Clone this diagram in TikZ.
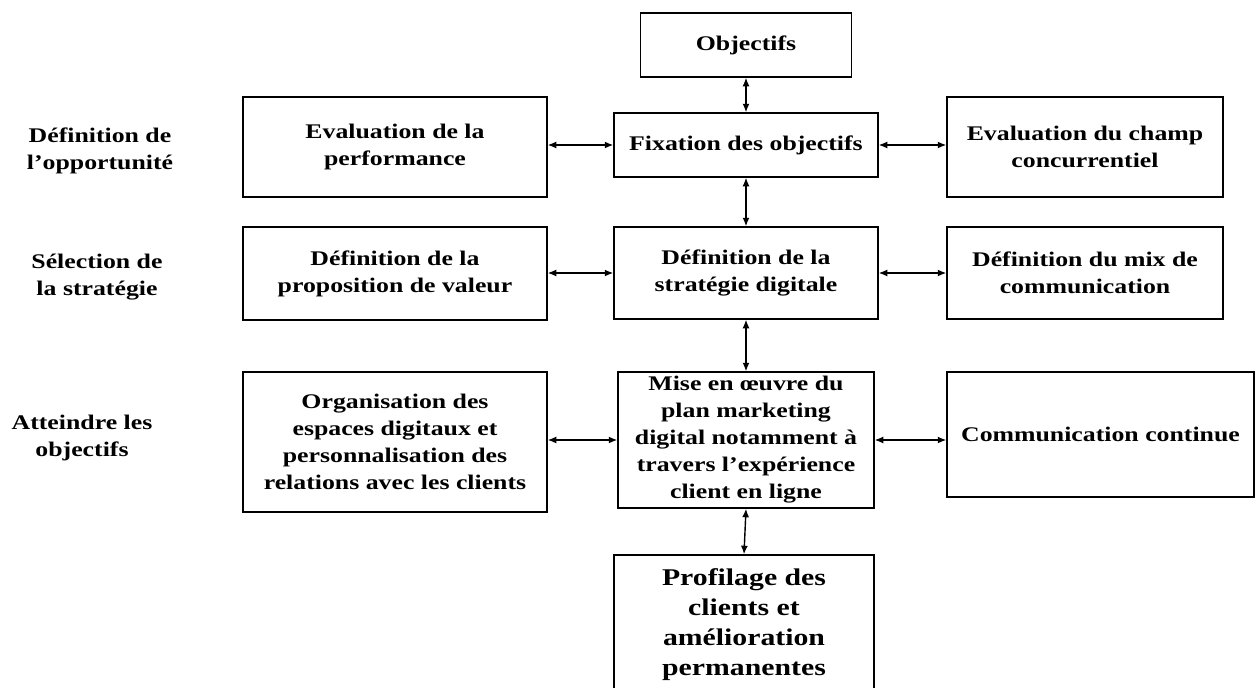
\documentclass[tikz,border=0pt]{standalone}
\usepackage{fontspec}
\setmainfont{Liberation Serif}[FakeStretch=1.24]
\usetikzlibrary{arrows.meta}

\begin{document}
\begin{tikzpicture}[
  x = 1pt, y = -1pt,
  every node/.style = {font = \fontsize{20.8}{27}\selectfont\bfseries, align = center, inner sep = 0pt},
  box/.style 2 args = {draw, line width = 1.5pt, minimum width = #1, minimum height = #2},
  link/.style = {<->, >={Latex[length=8.5pt, width=7pt]}, line width = 1.4pt},
  ]
  \useasboundingbox (0,0) rectangle (1259,688);
  \node at (100,151) (opport) {Définition de\\l’opportunité};
  \node at (97,277) (select) {Sélection de\\la stratégie};
  \node at (82,438) (atteindre) {Atteindre les\\objectifs};
  \node[box = {211pt}{64pt}] at (746,45) (obj) {Objectifs};
  \node[box = {264pt}{64pt}] at (746,145) (fix) {Fixation des objectifs};
  \node[box = {304pt}{100pt}] at (395,147) (perf) {Evaluation de la\\performance};
  \node[box = {276pt}{100pt}] at (1085,147) (champ) {Evaluation du champ\\concurrentiel};
  \node[box = {304pt}{93pt}] at (395,273.5) (valeur) {Définition de la\\proposition de valeur};
  \node[box = {264pt}{92pt}] at (746,273) (strat) {Définition de la\\stratégie digitale};
  \node[box = {276pt}{92pt}] at (1085,273) (mix) {Définition du mix de\\communication};
  \node[box = {304pt}{140pt}] at (395,442) (espaces) {Organisation des\\espaces digitaux et\\personnalisation des\\relations avec les clients};
  \node[box = {256pt}{136pt}] at (746,440) (plan) {Mise en œuvre du\\plan marketing\\digital notamment à\\travers l’expérience\\client en ligne};
  \node[box = {307pt}{125pt}] at (1100.5,434.5) (comm) {Communication continue};
  \node[box = {260pt}{140pt}, font = \fontsize{24}{30}\selectfont\bfseries] at (744,625) (profil) {Profilage des\\clients et\\amélioration\\permanentes};
  \draw[link] (fix.north) -- (fix.north |- obj.south);
  \draw[link] (perf.east |- fix.west) -- (fix.west);
  \draw[link] (fix.east) -- (fix.east -| champ.west);
  \draw[link] (fix) -- (strat);
  \draw[link] (valeur.east |- strat.west) -- (strat.west);
  \draw[link] (strat) -- (mix);
  \draw[link] (strat) -- (plan);
  \draw[link] (espaces.east |- plan.west) -- (plan.west);
  \draw[link] (plan.east) -- (plan.east -| comm.west);
  \draw[link] (plan.south) -- (profil.north);
\end{tikzpicture}
\end{document}
